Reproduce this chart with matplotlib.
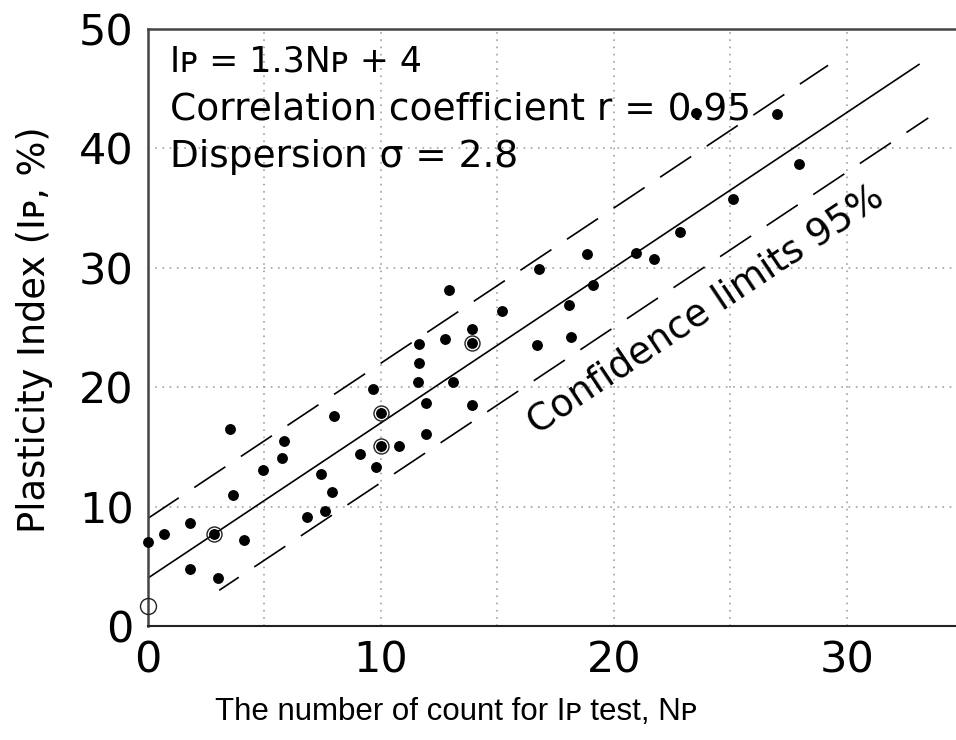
import matplotlib
matplotlib.use('Agg')
import matplotlib.pyplot as plt

plt.rcParams['font.family'] = ['DejaVu Sans']
plt.rcParams['lines.scale_dashes'] = False

# data
np_count = [0, 0.7, 1.8, 1.8, 2.85, 3.0, 3.65, 4.15, 3.55, 4.95, 5.75, 5.85,
            6.85, 7.45, 7.6, 7.9, 8.0, 9.1, 9.8, 9.65, 10.0, 10.0, 10.8, 11.95,
            11.95, 11.6, 11.65, 11.65, 12.75, 12.95, 13.1, 13.9, 13.9, 13.9,
            15.2, 16.7, 16.8, 18.1, 18.15, 18.85, 19.1, 20.95, 21.75, 22.85,
            23.55, 25.1, 27.0, 27.95]
ip_value = [7.0, 7.7, 8.65, 4.75, 7.7, 4.0, 11.0, 7.2, 16.5, 13.1, 14.1, 15.5,
            9.1, 12.75, 9.6, 11.25, 17.6, 14.4, 13.3, 19.85, 15.1, 17.85, 15.05, 16.05,
            18.7, 20.45, 22.05, 23.6, 24.0, 28.1, 20.45, 18.5, 23.7, 24.85,
            26.4, 23.5, 29.9, 26.9, 24.2, 31.15, 28.55, 31.25, 30.7, 33.0,
            43.0, 35.8, 42.9, 38.7]

circled_x = [2.85, 10.0, 10.0, 13.9]
circled_y = [7.7, 15.1, 17.85, 23.7]

open_x = [0]
open_y = [1.7]

slope = 1.3
intercept = 4
band = 5
fit_range = [0, 33.1]
upper_range = [0, 29.2]
lower_range = [3.07, 33.5]

fig = plt.figure(figsize=(9.56, 7.4), dpi=100)
ax = fig.add_axes([147.7 / 956, 114 / 740, 1 - 147.7 / 956, 597 / 740])

ax.set_xlim(0, 34.69)
ax.set_ylim(0, 50)

# grid
ax.set_xticks([0, 10, 20, 30])
ax.set_xticks([5, 15, 25], minor=True)
ax.set_yticks([0, 10, 20, 30, 40, 50])
ax.grid(True, which='both', color='#999999', linestyle=(0, (1.2, 4)), linewidth=1.1)
ax.set_axisbelow(True)
ax.tick_params(which='both', length=0, labelsize=31, pad=10)

ax.spines['right'].set_visible(False)
for s in ['top', 'left']:
    ax.spines[s].set_color('#444444')
    ax.spines[s].set_linewidth(1.8)
ax.spines['bottom'].set_color('#222222')
ax.spines['bottom'].set_linewidth(1.5)

# regression line and confidence limits
ax.plot(fit_range, [slope * x + intercept for x in fit_range], color='black', lw=1.2)
ax.plot(upper_range, [slope * x + intercept + band for x in upper_range],
        color='black', lw=1.2, linestyle=(0, (26.9, 13.4)))
ax.plot(lower_range, [slope * x + intercept - band for x in lower_range],
        color='black', lw=1.2, linestyle=(10, (26.9, 13.4)))

# points
ax.plot(np_count, ip_value, 'o', color='black', ms=6.8, clip_on=False, zorder=5)
ax.plot(circled_x, circled_y, 'o', mfc='none', mec='#222222', ms=10.8, mew=1.0,
        clip_on=False, zorder=5)
ax.plot(open_x, open_y, 'o', mfc='none', mec='#222222', ms=11.5, mew=1.0,
        clip_on=False, zorder=5)

# equation text
ax.text(0.96, 46.4, 'I\u1d18 = 1.3N\u1d18 + 4', fontsize=25, va='baseline')
ax.text(0.96, 42.4, 'Correlation coefficient r = 0.95', fontsize=27, va='baseline')
ax.text(0.96, 38.45, 'Dispersion \u03c3 = 2.8', fontsize=27, va='baseline')

ax.text(23.96, 26.5, 'Confidence limits 95%', fontsize=27, rotation=33.7,
        rotation_mode='anchor', ha='center', va='center')

fig.text(456 / 956, 1 - 720 / 740, 'The number of count for I\u1d18 test, N\u1d18',
         fontsize=22.5, ha='center', va='baseline',
         family=['Liberation Sans', 'DejaVu Sans'])
fig.text(35 / 956, 1 - 330 / 740, 'Plasticity Index (I\u1d18, %)',
         fontsize=26.5, rotation=90, ha='center', va='center')

fig.savefig('out.png', dpi=100)
